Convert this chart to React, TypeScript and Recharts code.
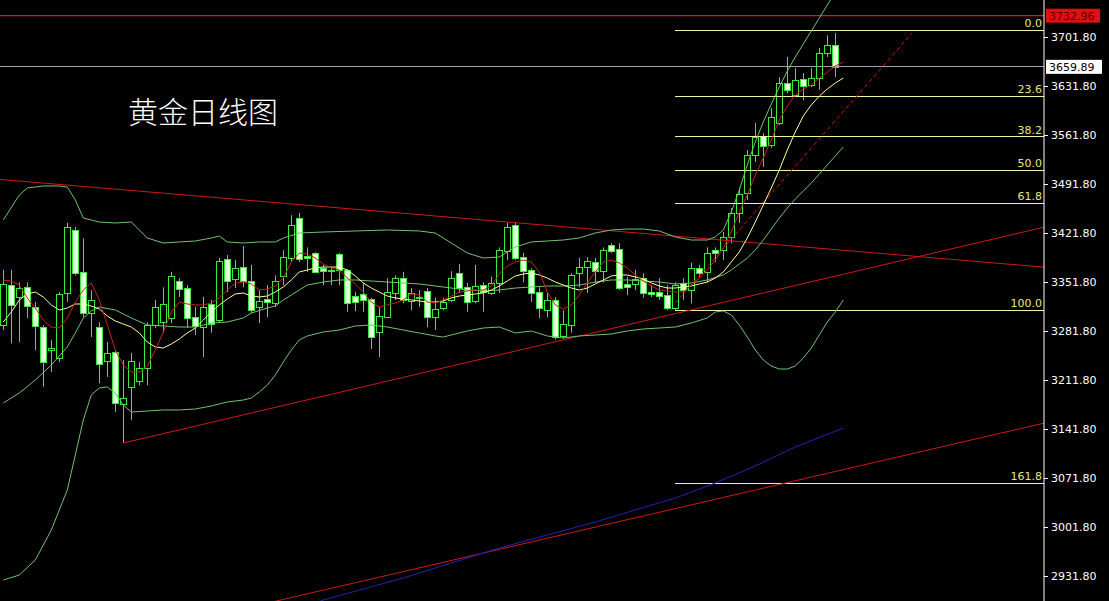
import React from "react";
import { ComposedChart, Bar, Line, XAxis, YAxis, ReferenceLine } from "recharts";

const W = 1109;
const H = 601;

// daily candles, oldest first
const opens = [3291, 3348, 3331, 3345, 3317, 3288, 3255, 3244, 3337, 3427, 3367, 3308, 3288, 3240, 3253, 3178, 3203, 3211, 3230, 3291, 3295, 3301, 3354, 3344, 3302, 3288, 3321, 3298, 3385, 3357, 3374, 3354, 3317, 3328, 3322, 3361, 3387, 3444, 3390, 3394, 3372, 3370, 3392, 3370, 3332, 3335, 3328, 3281, 3302, 3337, 3358, 3325, 3331, 3340, 3302, 3315, 3327, 3365, 3345, 3325, 3348, 3337, 3351, 3397, 3434, 3388, 3370, 3338, 3312, 3327, 3275, 3291, 3365, 3374, 3381, 3368, 3405, 3400, 3350, 3350, 3358, 3338, 3338, 3334, 3315, 3351, 3341, 3372, 3367, 3398, 3398, 3417, 3451, 3480, 3534, 3561, 3548, 3580, 3637, 3620, 3642, 3634, 3644, 3680, 3691];
const highs = [3370, 3370, 3352, 3352, 3324, 3291, 3270, 3338, 3437, 3431, 3415, 3341, 3295, 3267, 3255, 3241, 3251, 3238, 3295, 3327, 3345, 3367, 3358, 3348, 3317, 3331, 3327, 3387, 3391, 3384, 3404, 3377, 3341, 3348, 3362, 3398, 3448, 3451, 3402, 3395, 3377, 3374, 3394, 3371, 3338, 3351, 3330, 3317, 3358, 3362, 3367, 3344, 3341, 3344, 3330, 3330, 3368, 3378, 3351, 3377, 3352, 3360, 3402, 3437, 3438, 3394, 3372, 3345, 3337, 3331, 3312, 3365, 3387, 3388, 3387, 3402, 3408, 3408, 3360, 3370, 3365, 3348, 3358, 3348, 3352, 3358, 3380, 3377, 3402, 3402, 3424, 3458, 3487, 3541, 3580, 3565, 3601, 3645, 3674, 3658, 3651, 3658, 3687, 3705, 3708];
const lows = [3284, 3265, 3267, 3301, 3255, 3203, 3224, 3238, 3324, 3362, 3302, 3274, 3208, 3217, 3167, 3122.5, 3155, 3205, 3205, 3287, 3280, 3294, 3331, 3287, 3277, 3245, 3280, 3295, 3338, 3344, 3345, 3308, 3294, 3302, 3317, 3348, 3381, 3381, 3367, 3365, 3348, 3348, 3348, 3310, 3311, 3310, 3257, 3245, 3301, 3327, 3322, 3312, 3317, 3288, 3284, 3312, 3324, 3337, 3310, 3322, 3310, 3334, 3337, 3384, 3384, 3352, 3324, 3301, 3302, 3270, 3272, 3280, 3345, 3337, 3351, 3352, 3394, 3341, 3334, 3341, 3330, 3331, 3327, 3312, 3312.5, 3327, 3322, 3360, 3352, 3381, 3384, 3408, 3437, 3470, 3524, 3517, 3544, 3577, 3622, 3617, 3612, 3631, 3627, 3674, 3645];
const closes = [3350, 3320, 3344, 3318, 3290, 3238, 3258, 3335, 3431, 3365, 3308, 3327, 3235, 3251, 3180, 3187, 3240, 3230, 3291, 3317, 3321, 3361, 3342, 3301, 3290, 3317, 3292, 3382, 3354, 3372, 3354, 3312, 3325, 3324, 3354, 3388, 3434, 3385, 3387, 3367, 3368, 3368, 3370, 3322, 3324, 3327, 3274, 3304, 3338, 3358, 3327, 3337, 3330, 3302, 3314, 3324, 3358, 3344, 3324, 3347, 3338, 3351, 3398, 3431, 3387, 3368, 3337, 3315, 3327, 3274, 3292, 3362, 3374, 3382, 3368, 3398, 3397, 3344, 3345, 3357, 3337, 3335, 3332, 3315, 3348, 3341, 3372, 3365, 3394, 3394, 3417, 3451, 3478, 3534, 3560, 3547, 3588, 3637, 3627, 3641, 3632, 3644, 3680, 3691, 3659.89];

// indicator lines: [bar index, price]
const ma5Red = [[0, 3355.4], [1, 3353.9], [2, 3348.2], [3, 3329.7], [4, 3315.4], [5, 3298.2], [6, 3288.2], [7, 3286.8], [8, 3301.1], [9, 3323.9], [10, 3341.1], [11, 3351.1], [12, 3326.8], [13, 3291.1], [14, 3255.4], [15, 3233.9], [16, 3223.9], [17, 3223.9], [18, 3232.5], [19, 3255.4], [20, 3281.1], [21, 3309.7], [22, 3323.9], [23, 3321.1], [24, 3319.7], [25, 3319.7], [26, 3322.5], [27, 3329.7], [28, 3341.1], [29, 3351.1], [30, 3352.5], [31, 3349.7], [32, 3341.1], [33, 3342.5], [34, 3346.8], [35, 3358.2], [36, 3381.1], [37, 3393.9], [38, 3392.5], [39, 3386.8], [40, 3378.2], [41, 3372.5], [42, 3369.7], [43, 3358.2], [44, 3349.7], [45, 3338.2], [46, 3323.9], [47, 3316.8], [48, 3319.7], [49, 3322.5], [50, 3326.8], [51, 3335.4], [52, 3333.9], [53, 3323.9], [54, 3322.5], [55, 3326.8], [56, 3332.5], [57, 3338.2], [58, 3339.7], [59, 3341.1], [60, 3341.1], [61, 3346.8], [62, 3363.9], [63, 3375.4], [64, 3381.1], [65, 3383.9], [66, 3381.1], [67, 3366.8], [68, 3338.2], [69, 3319.7], [70, 3313.9], [71, 3319.7], [72, 3333.9], [73, 3351.1], [74, 3366.8], [75, 3381.1], [76, 3383.9], [77, 3379.7], [78, 3372.5], [79, 3362.5], [80, 3353.9], [81, 3346.8], [82, 3341.1], [83, 3339.7], [84, 3338.2], [85, 3338.2], [86, 3348.2], [87, 3358.2], [88, 3369.7], [89, 3383.9], [90, 3401.1], [91, 3423.9], [92, 3452.5], [93, 3476.8], [94, 3505.4], [95, 3529.7], [96, 3555.4], [97, 3583.9], [98, 3603.9], [99, 3619.7], [100, 3628.2], [101, 3633.9], [102, 3643.9], [103, 3652.5], [104, 3661.1], [105, 3666.8]];
const ma10Yellow = [[0, 3295.4], [1, 3309.7], [2, 3326.8], [3, 3335.4], [4, 3338.2], [5, 3331.1], [6, 3319.7], [7, 3312.5], [8, 3315.4], [9, 3321.1], [10, 3321.1], [11, 3318.2], [12, 3313.9], [13, 3303.9], [14, 3296.8], [15, 3292.5], [16, 3288.2], [17, 3279.7], [18, 3266.8], [19, 3259.7], [20, 3258.2], [21, 3263.9], [22, 3271.1], [23, 3279.7], [24, 3286.8], [25, 3298.2], [26, 3309.7], [27, 3319.7], [28, 3328.2], [29, 3335.4], [30, 3336.8], [31, 3332.5], [32, 3331.1], [33, 3332.5], [34, 3338.2], [35, 3345.4], [36, 3355.4], [37, 3366.8], [38, 3369.7], [39, 3372.5], [40, 3373.9], [41, 3373.9], [42, 3373.9], [43, 3369.7], [44, 3361.1], [45, 3351.1], [46, 3343.9], [47, 3338.2], [48, 3332.5], [49, 3329.7], [50, 3328.2], [51, 3326.8], [52, 3325.4], [53, 3323.9], [54, 3323.9], [55, 3325.4], [56, 3329.7], [57, 3332.5], [58, 3333.9], [59, 3335.4], [60, 3336.8], [61, 3341.1], [62, 3346.8], [63, 3353.9], [64, 3361.1], [65, 3363.9], [66, 3365.4], [67, 3362.5], [68, 3358.2], [69, 3352.5], [70, 3348.2], [71, 3343.9], [72, 3341.1], [73, 3343.9], [74, 3349.7], [75, 3355.4], [76, 3361.1], [77, 3362.5], [78, 3362.5], [79, 3359.7], [80, 3356.8], [81, 3351.1], [82, 3346.8], [83, 3343.9], [84, 3343.9], [85, 3345.4], [86, 3346.8], [87, 3349.7], [88, 3352.5], [89, 3358.2], [90, 3366.8], [91, 3381.1], [92, 3395.4], [93, 3415.4], [94, 3438.2], [95, 3462.5], [96, 3486.8], [97, 3512.5], [98, 3541.1], [99, 3566.8], [100, 3589.7], [101, 3605.4], [102, 3618.2], [103, 3628.2], [104, 3636.8], [105, 3643.9]];
const bollUpper = [[0, 3441.1], [2, 3476.8], [3, 3486.8], [5, 3489.7], [7, 3489.7], [8, 3488.2], [9, 3469.7], [10, 3443.9], [12, 3438.2], [14, 3436.8], [16, 3438.2], [18, 3415.4], [20, 3408.2], [22, 3409.7], [24, 3411.1], [26, 3415.4], [27, 3418.2], [28, 3409.7], [30, 3408.2], [32, 3409.7], [34, 3409.7], [35, 3415.4], [37, 3422.5], [40, 3423.9], [44, 3425.4], [48, 3426.8], [52, 3425.4], [54, 3422.5], [56, 3408.2], [58, 3393.9], [60, 3386.8], [62, 3388.2], [64, 3402.5], [66, 3409.7], [68, 3411.1], [70, 3412.5], [72, 3415.4], [74, 3422.5], [76, 3426.8], [78, 3428.2], [80, 3428.2], [82, 3425.4], [84, 3416.8], [86, 3412.5], [88, 3412.5], [89, 3416.8], [90, 3426.8], [91, 3452.5], [92, 3483.9], [93, 3519.7], [94, 3552.5], [95, 3581.1], [96, 3606.8], [97, 3631.1], [98, 3653.9], [99, 3673.9], [100, 3692.5], [101, 3711.1], [102, 3729.7], [103, 3748.2], [104, 3766.8], [105, 3783.9]];
const bollMiddle = [[0, 3179.7], [2, 3193.9], [4, 3212.5], [6, 3233.9], [8, 3259.7], [9, 3279.7], [10, 3301.1], [11, 3311.1], [12, 3316.8], [14, 3312.5], [16, 3301.1], [18, 3291.1], [20, 3289.7], [22, 3288.2], [24, 3288.2], [26, 3293.9], [28, 3295.4], [30, 3301.1], [31, 3308.2], [33, 3315.4], [34, 3318.2], [35, 3326.8], [36, 3333.9], [37, 3341.1], [38, 3348.2], [40, 3352.5], [42, 3355.4], [44, 3355.4], [46, 3353.9], [48, 3352.5], [50, 3351.1], [52, 3349.7], [54, 3346.8], [56, 3343.9], [58, 3341.1], [60, 3339.7], [62, 3341.1], [64, 3343.9], [66, 3345.4], [68, 3346.8], [70, 3346.8], [72, 3348.2], [74, 3352.5], [76, 3355.4], [78, 3355.4], [80, 3353.9], [82, 3352.5], [84, 3349.7], [86, 3351.1], [88, 3355.4], [90, 3362.5], [91, 3369.7], [92, 3378.2], [93, 3386.8], [94, 3398.2], [95, 3412.5], [96, 3428.2], [97, 3443.9], [98, 3458.2], [99, 3471.1], [100, 3482.5], [101, 3493.9], [102, 3506.8], [103, 3519.7], [104, 3532.5], [105, 3545.4]];
const bollLower = [[0, 2926.8], [2, 2933.9], [4, 2955.4], [6, 2998.2], [8, 3055.4], [9, 3105.4], [10, 3155.4], [11, 3191.1], [12, 3201.1], [13, 3202.5], [14, 3193.9], [15, 3176.8], [16, 3166.8], [18, 3168.2], [20, 3169.7], [22, 3169.7], [24, 3171.1], [26, 3175.4], [28, 3181.1], [30, 3183.9], [31, 3186.8], [32, 3195.4], [33, 3205.4], [34, 3219.7], [35, 3238.2], [36, 3255.4], [37, 3269.7], [38, 3275.4], [40, 3281.1], [42, 3283.9], [44, 3289.7], [46, 3291.1], [48, 3288.2], [50, 3283.9], [52, 3279.7], [54, 3275.4], [55, 3273.9], [57, 3279.7], [58, 3282.5], [60, 3286.8], [62, 3288.2], [64, 3279.7], [66, 3282.5], [68, 3275.4], [70, 3272.5], [72, 3275.4], [74, 3276.8], [76, 3278.2], [78, 3282.5], [80, 3285.4], [82, 3286.8], [84, 3288.2], [86, 3293.9], [88, 3301.1], [89, 3309.7], [90, 3311.1], [91, 3305.4], [92, 3291.1], [93, 3273.9], [94, 3255.4], [95, 3241.1], [96, 3232.5], [97, 3228.2], [98, 3228.2], [99, 3232.5], [100, 3243.9], [101, 3258.2], [102, 3276.8], [103, 3295.4], [104, 3309.7], [105, 3326.8]];
const maLongBlue = [[39, 2893.9], [40, 2898.2], [50, 2929.7], [62, 2972.5], [74, 3009.7], [84, 3043.9], [89, 3065.4], [94, 3089.7], [99, 3116.8], [105, 3143.9]];

const priceTicks = [2931.8, 3001.8, 3071.8, 3141.8, 3211.8, 3281.8, 3351.8, 3421.8, 3491.8, 3561.8, 3631.8, 3701.8];

// fibonacci retracement, anchored at bar 84
const fibNames = ["0.0", "23.6", "38.2", "50.0", "61.8", "100.0", "161.8"];
const fibPrices = [3712.5, 3618.1, 3559.7, 3512.5, 3465.3, 3312.5, 3065.3];

// hand drawn trend lines [[bar, price], [bar, price]]
const channelLines = [
  [[-1, 3499.6], [131, 3372.9]],
  [[15, 3122.5], [131, 3433.3]],
  [[33, 2893.8], [131, 3153.3]],
];
const dashedTrend = [[84, 3322.5], [113.6, 3708.2]];

const highPrice = 3732.96;
const lastPrice = 3659.89;

const xDomain = [-0.4125, 130.0875];
const yDomain = [2896.8, 3755.37];

const rows: any[] = Array.from({ length: 106 }, (_, i) => ({
  i,
  o: opens[i],
  h: highs[i],
  l: lows[i],
  c: closes[i],
  hl: i < opens.length ? [lows[i], highs[i]] : undefined,
}));
const put = (key: string, pts: number[][]) => pts.forEach(([i, v]) => (rows[i][key] = v));
put("ma5", ma5Red);
put("ma10", ma10Yellow);
put("up", bollUpper);
put("mid", bollMiddle);
put("low", bollLower);
put("blue", maLongBlue);

const CANDLE = "#3ee83e";

const Candle = (props: any) => {
  const { x, y, width, height, payload } = props;
  if (!payload || payload.o == null) return null;
  const { o, h, l, c } = payload;
  const top = Math.min(y, y + height);
  const hh = Math.abs(height);
  const span = h - l || 1;
  const py = (p: number) => top + ((h - p) / span) * hh;
  const cx = Math.round(x + width / 2) + 0.5;
  const bTop = Math.round(py(Math.max(o, c))) + 0.5;
  let bBot = Math.round(py(Math.min(o, c))) + 0.5;
  if (bBot - bTop < 1) bBot = bTop + 1;
  const bull = c >= o;
  return (
    <g>
      <line x1={cx} x2={cx} y1={py(h)} y2={bTop} stroke={CANDLE} strokeWidth={1} />
      <line x1={cx} x2={cx} y1={bBot} y2={py(l)} stroke={CANDLE} strokeWidth={1} />
      <rect x={cx - 3} y={bTop} width={6} height={bBot - bTop} fill={bull ? "#000" : "#e2ffda"} stroke={CANDLE} strokeWidth={1} />
    </g>
  );
};

const priceTag = (text: string, bg: string, fg: string, w: number) => (props: any) => {
  const vb = props.viewBox;
  const x0 = vb.x + vb.width + 2;
  return (
    <g>
      <rect x={x0} y={vb.y - 7} width={w} height={14} fill={bg} />
      <text x={x0 + 3} y={vb.y + 4} fill={fg} fontSize={11} fontFamily="DejaVu Sans">
        {text}
      </text>
    </g>
  );
};

const fibLabel = (text: string) => (props: any) => {
  const vb = props.viewBox;
  return (
    <text x={vb.x + vb.width - 2} y={vb.y - 3} fill="#e6e67a" fontSize={11} fontFamily="DejaVu Sans" textAnchor="end">
      {text}
    </text>
  );
};

export default function App() {
  return (
    <div style={{ position: "fixed", left: 0, top: 0, width: W, height: H, background: "#000", overflow: "hidden" }}>
      <ComposedChart width={W} height={H} data={rows} margin={{ top: 0, right: 0, bottom: 0, left: 0 }}>
        <XAxis dataKey="i" type="number" domain={xDomain} allowDataOverflow hide />
        <YAxis
          orientation="right"
          width={65}
          domain={yDomain}
          allowDataOverflow
          ticks={priceTicks}
          interval={0}
          tickFormatter={(v: number) => v.toFixed(2)}
          axisLine={{ stroke: "#fff" }}
          tickLine={{ stroke: "#fff" }}
          tickSize={4}
          tickMargin={3}
          tick={{ fill: "#fff", fontSize: 11, fontFamily: "DejaVu Sans" }}
        />

        <ReferenceLine y={highPrice} stroke="#e01818" strokeWidth={1.3} ifOverflow="visible" label={priceTag(highPrice.toFixed(2), "#e01010", "#5a0000", 54)} />
        <ReferenceLine y={lastPrice} stroke="#a0a4aa" strokeWidth={1} shapeRendering="crispEdges" ifOverflow="visible" label={priceTag(lastPrice.toFixed(2), "#ffffff", "#000000", 56)} />

        {fibPrices.map((p, k) => (
          <ReferenceLine
            key={fibNames[k]}
            segment={[{ x: 84, y: p }, { x: xDomain[1], y: p }]}
            stroke="#f4f4a0"
            strokeWidth={1}
            shapeRendering="crispEdges"
            ifOverflow="visible"
            label={fibLabel(fibNames[k])}
          />
        ))}

        {channelLines.map((seg, k) => (
          <ReferenceLine
            key={"ch" + k}
            segment={[{ x: seg[0][0], y: seg[0][1] }, { x: seg[1][0], y: seg[1][1] }]}
            stroke="#d01818"
            strokeWidth={1}
            ifOverflow="hidden"
          />
        ))}
        <ReferenceLine
          segment={[{ x: dashedTrend[0][0], y: dashedTrend[0][1] }, { x: dashedTrend[1][0], y: dashedTrend[1][1] }]}
          stroke="#d01818"
          strokeDasharray="4 3"
          strokeWidth={1}
          ifOverflow="hidden"
        />

        <Bar dataKey="hl" barSize={6} shape={<Candle />} isAnimationActive={false} />

        <Line dataKey="blue" stroke="#2222b8" strokeWidth={1} dot={false} activeDot={false} connectNulls isAnimationActive={false} />
        <Line dataKey="up" stroke="#74c074" strokeWidth={1} dot={false} activeDot={false} connectNulls isAnimationActive={false} />
        <Line dataKey="mid" stroke="#74c074" strokeWidth={1} dot={false} activeDot={false} connectNulls isAnimationActive={false} />
        <Line dataKey="low" stroke="#74c074" strokeWidth={1} dot={false} activeDot={false} connectNulls isAnimationActive={false} />
        <Line dataKey="ma10" stroke="#ffff99" strokeWidth={1} dot={false} activeDot={false} connectNulls isAnimationActive={false} />
        <Line dataKey="ma5" stroke="#c82020" strokeWidth={1} dot={false} activeDot={false} connectNulls isAnimationActive={false} />
      </ComposedChart>
      <div
        style={{
          position: "absolute",
          left: 128,
          top: 95,
          fontSize: 30,
          lineHeight: "30px",
          color: "#fff",
          fontFamily: "'Noto Sans CJK SC', sans-serif",
          fontWeight: 300,
        }}
      >
        黄金日线图
      </div>
    </div>
  );
}
